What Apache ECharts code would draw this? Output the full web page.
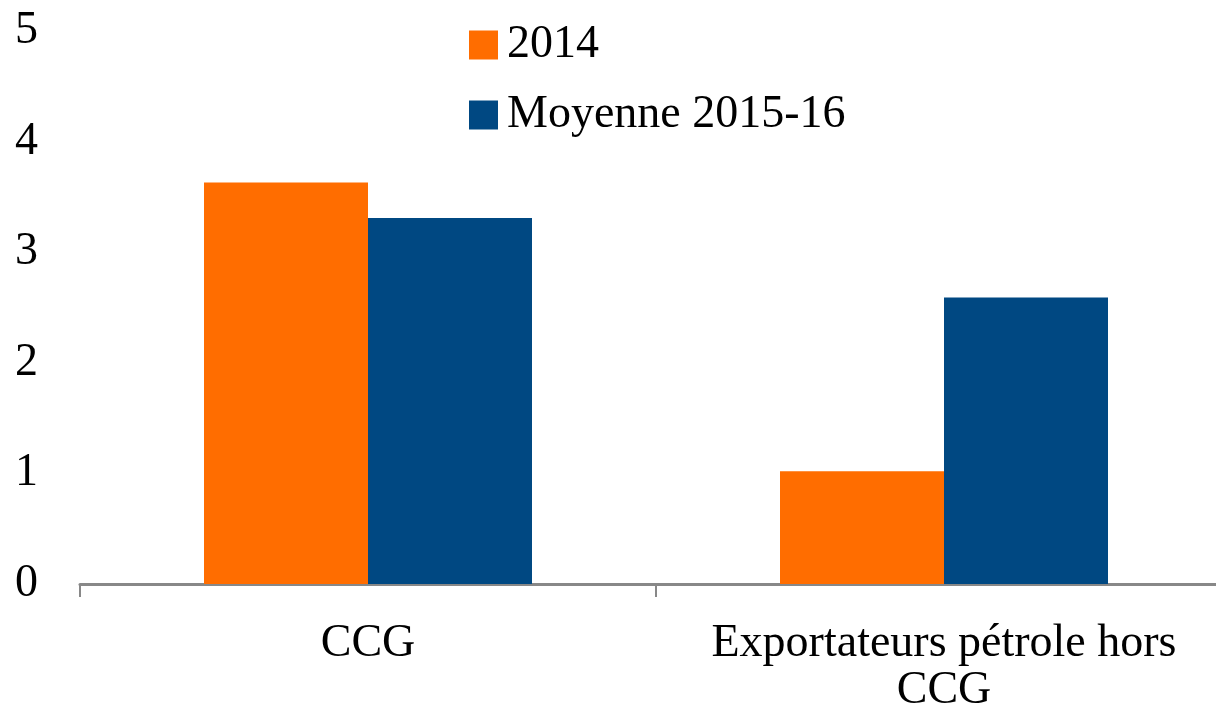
<!DOCTYPE html>
<html>
<head>
<meta charset="utf-8">
<script src="https://cdn.jsdelivr.net/npm/echarts@6/dist/echarts.min.js"></script>
<style>
  html, body { margin: 0; padding: 0; background: #fff; }
  #chart { width: 1216px; height: 711px; }
</style>
</head>
<body>
<div id="chart"></div>
<script>
const categories = ['CCG', 'Exportateurs pétrole hors\nCCG'];
const seriesNames = ['2014', 'Moyenne 2015-16'];
const values2014 = [3.63, 1.02];
const valuesMoyenne = [3.31, 2.59];
const yTicks = [0, 1, 2, 3, 4, 5];

const font = '"Liberation Serif", "DejaVu Serif", serif';
const chart = echarts.init(document.getElementById('chart'));

const option = {
  animation: false,
  textStyle: { fontFamily: font },
  grid: { left: 80, width: 1152, top: 31, bottom: 127, outerBoundsMode: 'none', containLabel: false },
  legend: {
    orient: 'vertical',
    left: 464,
    top: 17,
    itemWidth: 29,
    itemHeight: 29,
    itemGap: 24,
    icon: 'rect',
    data: seriesNames,
    textStyle: {
      fontFamily: font,
      fontSize: 46,
      lineHeight: 46,
      color: '#000',
      padding: [0, 0, 0, 4]
    }
  },
  xAxis: {
    type: 'category',
    data: categories,
    axisLine: { lineStyle: { color: '#888', width: 3 } },
    axisTick: { show: true, length: 13, lineStyle: { color: '#888', width: 2 } },
    axisLabel: {
      fontFamily: font,
      fontSize: 46,
      lineHeight: 47,
      color: '#000',
      margin: 36,
      interval: 0
    }
  },
  yAxis: {
    type: 'value',
    min: yTicks[0],
    max: yTicks[yTicks.length - 1],
    interval: 1,
    axisLine: { show: false },
    axisTick: { show: false },
    splitLine: { show: false },
    axisLabel: {
      fontFamily: font,
      fontSize: 46,
      color: '#000',
      margin: 42
    }
  },
  series: [
    {
      name: seriesNames[0],
      type: 'bar',
      data: values2014,
      barWidth: 164,
      barGap: '0%',
      itemStyle: { color: '#FF6D00' }
    },
    {
      name: seriesNames[1],
      type: 'bar',
      data: valuesMoyenne,
      barWidth: 164,
      barGap: '0%',
      itemStyle: { color: '#004882' }
    }
  ]
};

chart.setOption(option);
</script>
</body>
</html>
